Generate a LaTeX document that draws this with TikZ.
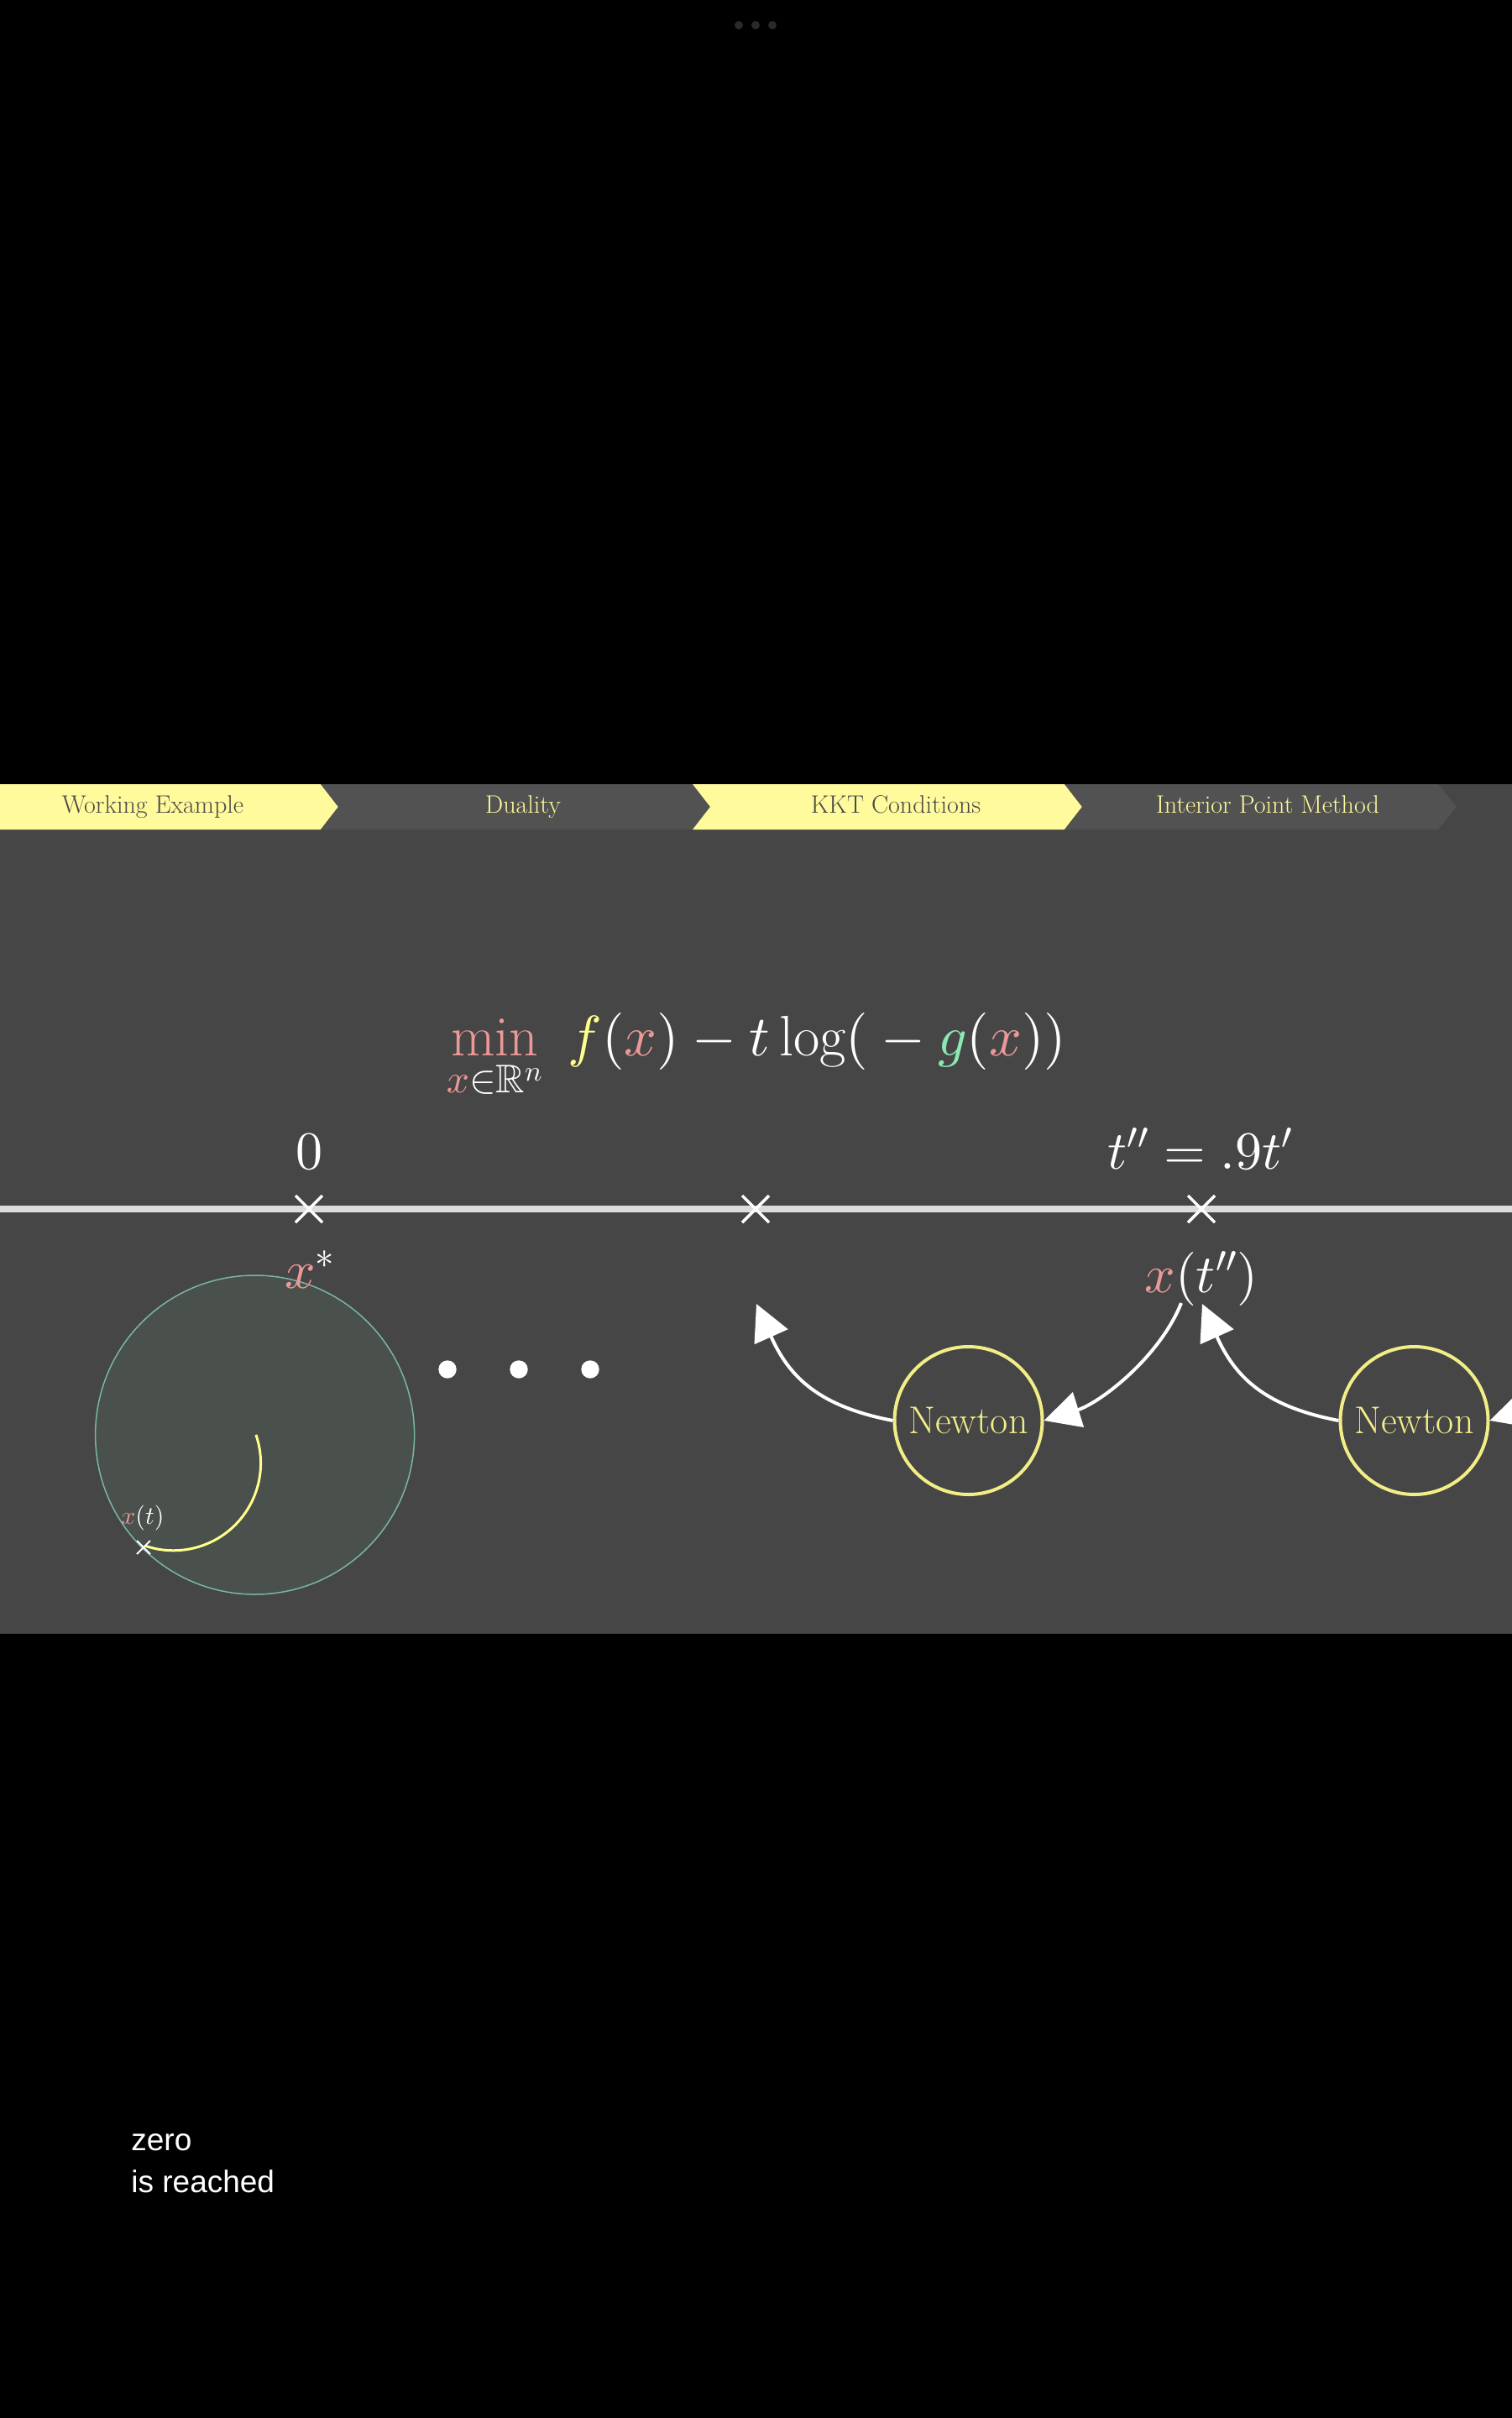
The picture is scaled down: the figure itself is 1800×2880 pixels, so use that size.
\documentclass[tikz,border=0pt]{standalone}
\usepackage{amssymb}
\usepackage{fontspec}
\newfontfamily\uisans{Liberation Sans}
\DeclareFontFamily{U}{msb}{}
\DeclareFontShape{U}{msb}{m}{n}{<-> msbm10}{}
\DeclareFontFamily{OML}{cmm}{\skewchar\font'177}
\DeclareFontShape{OML}{cmm}{m}{it}{<-> cmmi10}{}
\DeclareFontFamily{OMS}{cmsy}{\skewchar\font'60}
\DeclareFontShape{OMS}{cmsy}{m}{n}{<-> cmsy10}{}
\DeclareFontFamily{OMX}{cmex}{}
\DeclareFontShape{OMX}{cmex}{m}{n}{<-> cmex10}{}
\DeclareFontFamily{OT1}{cmr}{\hyphenchar\font45}
\DeclareFontShape{OT1}{cmr}{m}{n}{<-> cmr10}{}
\usetikzlibrary{arrows.meta}
\definecolor{pinkx}{RGB}{236,152,152}
\definecolor{yellowf}{RGB}{255,255,140}
\definecolor{greeng}{RGB}{140,232,178}
\definecolor{bannery}{RGB}{255,250,155}
\definecolor{bannerg}{RGB}{82,82,82}
\definecolor{panelg}{RGB}{70,70,70}
\definecolor{bantext}{RGB}{72,72,72}
\definecolor{newtony}{RGB}{242,238,135}
\definecolor{setfill}{RGB}{74,80,76}
\definecolor{setline}{RGB}{120,182,166}
\definecolor{axisg}{RGB}{220,220,220}
\definecolor{topdots}{RGB}{42,42,42}
\begin{document}
\begin{tikzpicture}[x=0.5pt,y=-0.5pt,
  lbl/.style={text=white, inner sep=0pt, anchor=base, font=\fontsize{32}{38}\selectfont},
  bantxt/.style={inner sep=0pt, anchor=base, font=\fontsize{15}{17}\selectfont},
  newton/.style={circle, draw=newtony, line width=2pt, minimum size=88pt, inner sep=0pt,
                 text=newtony, font=\fontsize{23}{26}\selectfont},
  crossline/.style={draw=white, line width=1.75pt},
  arr/.style={draw=white, line width=2pt, -{Triangle[length=21.5pt,width=21.5pt]}},
  uitext/.style={text=white, inner sep=0pt, anchor=base west, font=\uisans\fontsize{18.5}{24}\selectfont}]
\useasboundingbox (0,0) rectangle (1800,2880);
\fill[black] (-20,-20) rectangle (1820,2900);
% top dots
\fill[topdots] (880,30) circle[radius=5] (900,30) circle[radius=5] (920,30) circle[radius=5];
% panel
\fill[panelg] (-20,934) rectangle (1820,1946);
% banner chevrons
\fill[bannery] (-20,934) -- (382,934) -- (403,961) -- (382,988) -- (-20,988) -- cycle;
\fill[bannerg] (382,934) -- (825,934) -- (846,961) -- (825,988) -- (382,988) -- (403,961) -- cycle;
\fill[bannery] (825,934) -- (1268,934) -- (1289,961) -- (1268,988) -- (825,988) -- (846,961) -- cycle;
\fill[bannerg] (1268,934) -- (1713,934) -- (1735,961) -- (1713,988) -- (1268,988) -- (1289,961) -- cycle;
\node[bantxt, text=bantext] (b1) at (182,968) {Working Example};
\node[bantxt, text=bannery] (b2) at (623,968) {Duality};
\node[bantxt, text=bantext] (b3) at (1067,968) {KKT Conditions};
\node[bantxt, text=bannery] (b4) at (1510,968) {Interior Point Method};
% objective
\node[anchor=base, text=white, inner sep=0pt, font=\fontsize{34}{40}\selectfont] (obj) at (901,1257)
  {$\displaystyle \mathop{\textcolor{pinkx}{\mathrm{min}}}\limits_{\textcolor{pinkx}{x}\in\mathbb{R}^n}\;
   \textcolor{yellowf}{f}(\textcolor{pinkx}{x}) - t\log({}-{}\textcolor{greeng}{g}(\textcolor{pinkx}{x}))$};
% feasible set
\draw[fill=setfill, draw=setline, line width=0.75pt] (303.6,1709) circle[radius=190];
\draw[draw=yellowf, line width=1.5pt] (304.9,1708.9) arc[start angle=-19, end angle=109, radius=104];
\coordinate (xt) at (171,1843);
\draw[draw=white, line width=1pt] (xt) +(-8,-8) -- +(8,8) (xt) +(-8,8) -- +(8,-8);
\node[anchor=base, text=white, inner sep=0pt, font=\fontsize{15}{18}\selectfont] (xtl) at (170,1815)
  {$\textcolor{pinkx}{x}(t)$};
% number line
\coordinate (c0) at (368,1440);
\coordinate (c1) at (900,1440);
\coordinate (c2) at (1431,1440);
\draw[draw=axisg, line width=4pt] (-20,1440) -- (1820,1440);
\foreach \c in {c0,c1,c2}{
  \draw[crossline] (\c) +(-16,-16) -- +(16,16) (\c) +(-16,16) -- +(16,-16);
}
\node[lbl] (zero) at (368,1392) {$0$};
\node[lbl] (tpp) at (1430,1392) {$t''=.9t'$};
\node[lbl] (xstar) at (369,1534) {$\textcolor{pinkx}{x}^*$};
\node[lbl] (xtpp) at (1431,1539) {$\textcolor{pinkx}{x}(t'')$};
% dots
\fill[white] (533,1631) circle[radius=10.7] (618,1631) circle[radius=10.7] (703,1631) circle[radius=10.7];
% Newton steps
\node[newton] (nw1) at (1153.5,1692) {Newton};
\node[newton] (nw2) at (1684.5,1692) {Newton};
\coordinate (tipA) at (901,1553);
\coordinate (tipC) at (1432,1553);
\coordinate (fromB) at (1407,1552);
\coordinate (fromD) at (1938,1552);
\draw[arr] (nw1.west) .. controls (975,1675) and (940,1640) .. (tipA);
\draw[arr] (fromB) .. controls (1381,1617) and (1310,1671) .. (nw1.east);
\draw[arr] (nw2.west) .. controls (1506,1675) and (1471,1640) .. (tipC);
\draw[arr] (fromD) .. controls (1912,1617) and (1841,1671) .. (nw2.east);
% caption text
\node[uitext] (cap1) at (156,2561) {zero};
\node[uitext] (cap2) at (156,2611) {is reached};
\end{tikzpicture}
\end{document}
